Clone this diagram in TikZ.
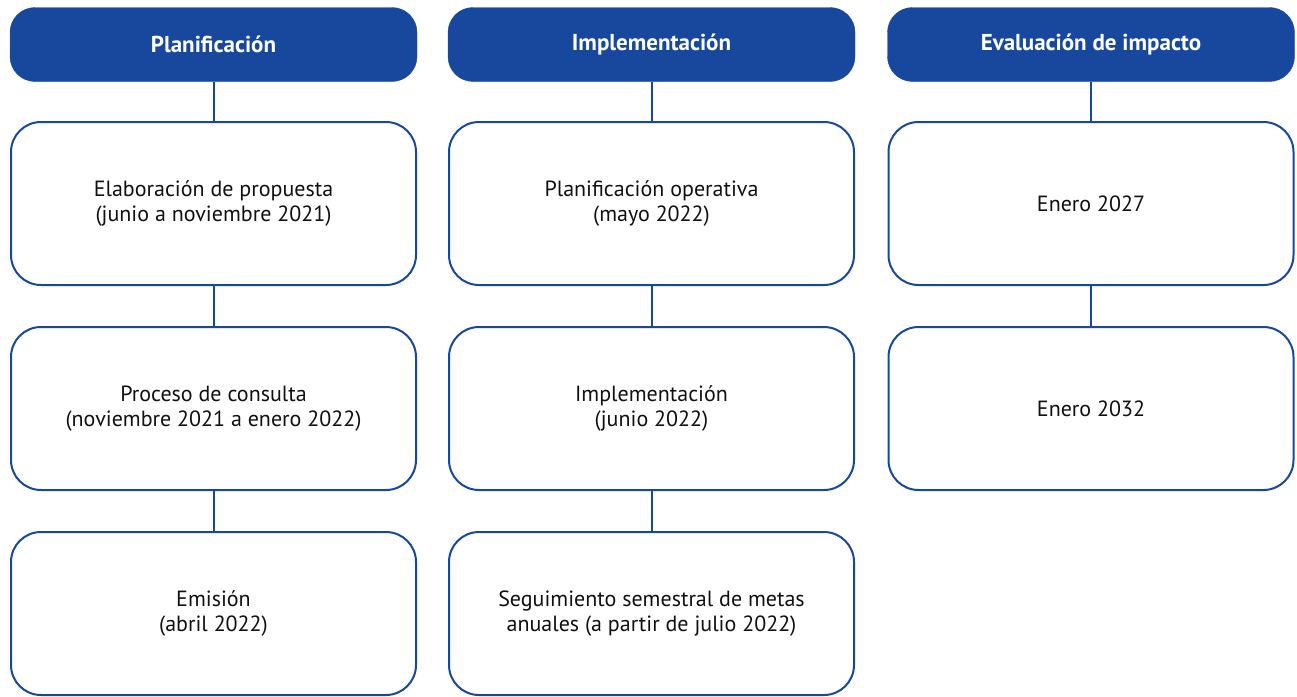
\documentclass[tikz,border=0pt]{standalone}
\usepackage{fontspec}
\setmainfont{PT Sans}
\definecolor{hdr}{HTML}{17489E}
\definecolor{txt}{HTML}{111111}
\begin{document}
\begin{tikzpicture}[x=1pt,y=-1pt,
  hdrbox/.style={fill=hdr,draw=hdr,rounded corners=25pt,minimum width=407pt,minimum height=74pt,text=white,font=\fontsize{23}{27}\selectfont\bfseries,inner sep=0pt},
  stepbox/.style={draw=hdr,line width=2pt,fill=white,rounded corners=30pt,minimum width=405pt,minimum height=163pt,text=txt,align=center,font=\fontsize{22}{25.5}\selectfont,inner sep=0pt},
  conn/.style={draw=hdr,line width=2pt}]
\useasboundingbox (0,0) rectangle (1297,696);
% headers
\node[hdrbox] (h1) at (213.5,44.5) {Planificación};
\node[hdrbox] (h2) at (651.5,44.5) {Implementación};
\node[hdrbox] (h3) at (1091,44.5) {Evaluación de impacto};
% column 1
\node[stepbox] (a1) at (213.5,203.5) {Elaboración de propuesta\\(junio a noviembre 2021)};
\node[stepbox] (a2) at (213.5,408.5) {Proceso de consulta\\(noviembre 2021 a enero 2022)};
\node[stepbox] (a3) at (213.5,613.5) {Emisión\\(abril 2022)};
% column 2
\node[stepbox] (b1) at (651.5,203.5) {Planificación operativa\\(mayo 2022)};
\node[stepbox] (b2) at (651.5,408.5) {Implementación\\(junio 2022)};
\node[stepbox] (b3) at (651.5,613.5) {Seguimiento semestral de metas\\anuales (a partir de julio 2022)};
% column 3
\node[stepbox] (c1) at (1091,203.5) {Enero 2027};
\node[stepbox] (c2) at (1091,408.5) {Enero 2032};
% connectors
\draw[conn] (h1.south) -- (a1.north);
\draw[conn] (a1.south) -- (a2.north);
\draw[conn] (a2.south) -- (a3.north);
\draw[conn] (h2.south) -- (b1.north);
\draw[conn] (b1.south) -- (b2.north);
\draw[conn] (b2.south) -- (b3.north);
\draw[conn] (h3.south) -- (c1.north);
\draw[conn] (c1.south) -- (c2.north);
\end{tikzpicture}
\end{document}
